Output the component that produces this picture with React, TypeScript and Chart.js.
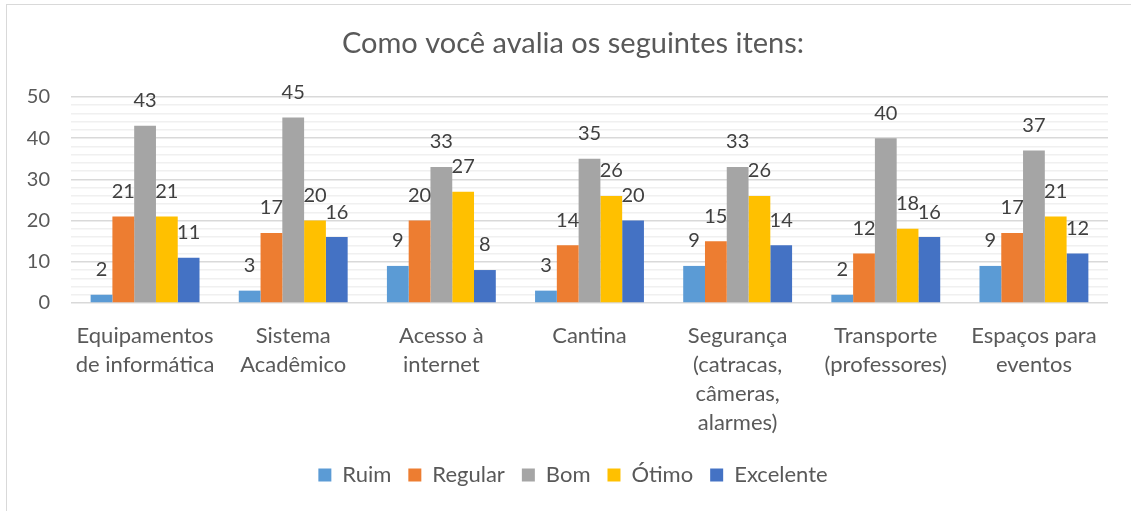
import React, { useEffect, useRef } from 'react';
import { Chart, registerables } from 'chart.js';

Chart.register(...registerables);

const titleText = 'Como você avalia os seguintes itens:';
const categories: string[][] = [
  ['Equipamentos', 'de informática'],
  ['Sistema', 'Acadêmico'],
  ['Acesso à', 'internet'],
  ['Cantina'],
  ['Segurança', '(catracas,', 'câmeras,', 'alarmes)'],
  ['Transporte', '(professores)'],
  ['Espaços para', 'eventos'],
];
const seriesNames = ['Ruim', 'Regular', 'Bom', 'Ótimo', 'Excelente'];
const ruim = [2, 3, 9, 3, 9, 2, 9];
const regular = [21, 17, 20, 14, 15, 12, 17];
const bom = [43, 45, 33, 35, 33, 40, 37];
const otimo = [21, 20, 27, 26, 26, 18, 21];
const excelente = [11, 16, 8, 20, 14, 16, 12];
const seriesColors = ['#5B9BD5', '#ED7D31', '#A5A5A5', '#FFC000', '#4472C4'];
const yMin = 0;
const yMax = 50;
const yMinorStep = 2;
const yMajorStep = 10;

const FONT = 'Lato';
const TEXT = '#595959';
const LABEL = '#404040';
const CENTER_SHIFT = 38;

const dataLabels = {
  id: 'dataLabels',
  afterDatasetsDraw(chart: any) {
    const ctx = chart.ctx;
    ctx.save();
    ctx.font = `20px ${FONT}`;
    ctx.fillStyle = LABEL;
    ctx.textAlign = 'center';
    ctx.textBaseline = 'middle';
    chart.data.datasets.forEach((ds: any, i: number) => {
      const meta = chart.getDatasetMeta(i);
      meta.data.forEach((el: any, j: number) => {
        ctx.fillText(String(ds.data[j]), el.x, el.y - 25);
      });
    });
    ctx.restore();
  },
};

const centerBlocks = {
  id: 'centerBlocks',
  afterLayout(chart: any) {
    if (chart.titleBlock) chart.titleBlock.left += CENTER_SHIFT;
    if (chart.legend) chart.legend.left += CENTER_SHIFT;
  },
};

export default function App() {
  const ref = useRef<HTMLCanvasElement | null>(null);
  useEffect(() => {
    if (!ref.current) return;
    const allSeries = [ruim, regular, bom, otimo, excelente];
    const chart = new Chart(ref.current, {
      type: 'bar',
      data: {
        labels: categories,
        datasets: allSeries.map((d, i) => ({
          label: seriesNames[i],
          data: d,
          backgroundColor: seriesColors[i],
          borderWidth: 0,
          barPercentage: 1,
          categoryPercentage: 0.735,
        })),
      },
      options: {
        responsive: false,
        animation: false,
        layout: { padding: { left: 0, right: 23, top: 10, bottom: 15 } },
        plugins: {
          title: {
            display: true,
            text: titleText,
            color: TEXT,
            font: { family: FONT, size: 29, weight: 'normal', lineHeight: 1.2 },
            padding: { top: 16, bottom: 36.2 },
          },
          legend: {
            position: 'bottom',
            labels: {
              color: TEXT,
              font: { family: FONT, size: 22 },
              boxWidth: 13,
              boxHeight: 13,
              padding: 17,
            },
          },
          tooltip: { enabled: false },
        },
        scales: {
          x: {
            grid: { display: false, drawTicks: false },
            border: { display: false },
            ticks: {
              color: TEXT,
              font: { family: FONT, size: 22, lineHeight: 29 / 22 },
              padding: 18,
              maxRotation: 0,
              autoSkip: false,
            },
            afterFit: (s: any) => { s.height = 144; },
          },
          y: {
            min: yMin,
            max: yMax,
            grid: {
              drawTicks: false,
              lineWidth: 1.5,
              color: (c: any) => (c.tick && c.tick.value % yMajorStep === 0 ? '#D9D9D9' : '#F0F0F0'),
            },
            border: { display: false },
            ticks: {
              stepSize: yMinorStep,
              autoSkip: false,
              color: TEXT,
              font: { family: FONT, size: 20 },
              padding: 21,
              callback: (v: any) => (Number(v) % yMajorStep === 0 ? String(v) : ''),
            },
            afterFit: (s: any) => { s.width = 71; },
          },
        },
      },
      plugins: [dataLabels, centerBlocks],
    });
    return () => chart.destroy();
  }, []);

  return (
    <div style={{ position: 'fixed', left: 0, top: 0, width: 1131, height: 511, overflow: 'hidden', background: '#fff' }}>
      <div style={{ position: 'absolute', left: 6, top: 4, width: 1200, height: 600, border: '1.5px solid #D9D9D9', boxSizing: 'border-box' }} />
      <canvas ref={ref} width={1131} height={511} style={{ position: 'absolute', left: 0, top: 0, width: 1131, height: 511 }} />
    </div>
  );
}
